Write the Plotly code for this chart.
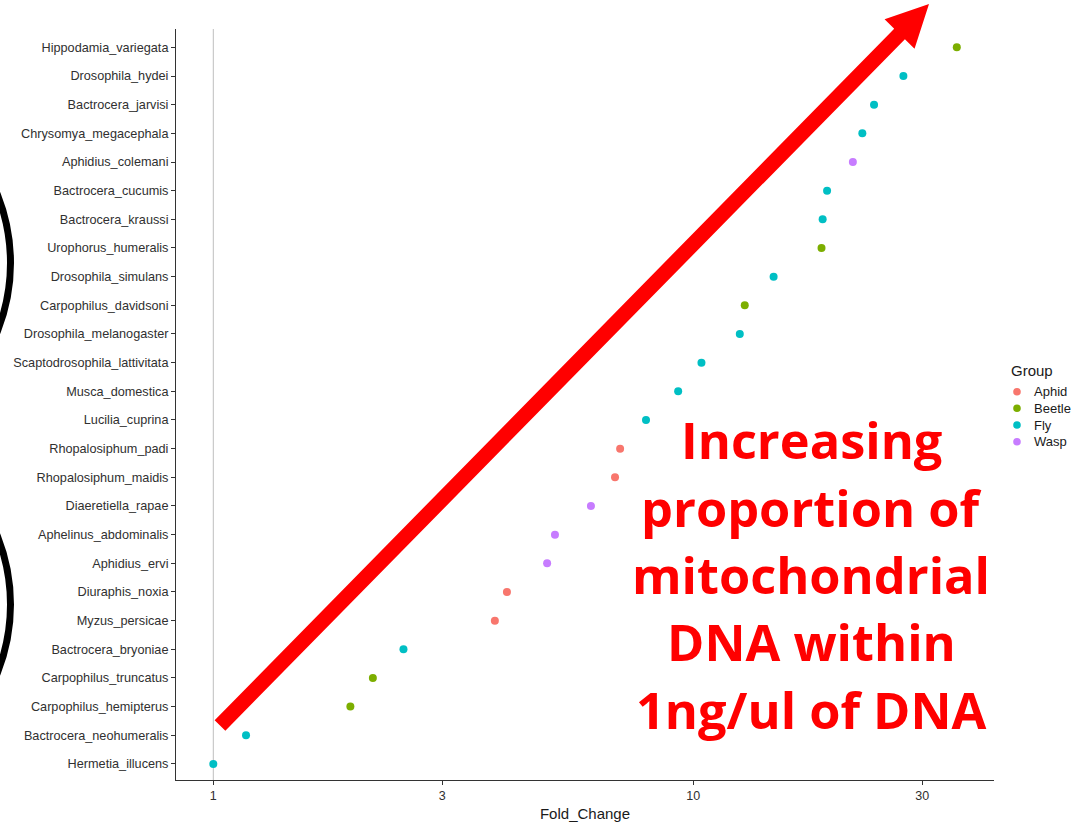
import math
import plotly.graph_objects as go

# ---- data (bottom to top) ----
species = [
    "Hermetia_illucens", "Bactrocera_neohumeralis", "Carpophilus_hemipterus",
    "Carpophilus_truncatus", "Bactrocera_bryoniae", "Myzus_persicae",
    "Diuraphis_noxia", "Aphidius_ervi", "Aphelinus_abdominalis",
    "Diaeretiella_rapae", "Rhopalosiphum_maidis", "Rhopalosiphum_padi",
    "Lucilia_cuprina", "Musca_domestica", "Scaptodrosophila_lattivitata",
    "Drosophila_melanogaster", "Carpophilus_davidsoni", "Drosophila_simulans",
    "Urophorus_humeralis", "Bactrocera_kraussi", "Bactrocera_cucumis",
    "Aphidius_colemani", "Chrysomya_megacephala", "Bactrocera_jarvisi",
    "Drosophila_hydei", "Hippodamia_variegata",
]
fold_change = [
    1.00, 1.17, 1.93, 2.15, 2.49, 3.86, 4.09, 4.96, 5.15, 6.12, 6.87, 7.04,
    7.97, 9.30, 10.4, 12.5, 12.8, 14.7, 18.5, 18.6, 19.0, 21.5, 22.5, 23.8,
    27.4, 35.4,
]
group = [
    "Fly", "Fly", "Beetle", "Beetle", "Fly", "Aphid", "Aphid", "Wasp", "Wasp",
    "Wasp", "Aphid", "Aphid", "Fly", "Fly", "Fly", "Fly", "Beetle", "Fly",
    "Beetle", "Fly", "Fly", "Wasp", "Fly", "Fly", "Fly", "Beetle",
]
groups = ["Aphid", "Beetle", "Fly", "Wasp"]
group_colors = ["#F8766D", "#7CAE00", "#00BFC4", "#C77CFF"]
x_ticks = [1, 3, 10, 30]
x_ticklabels = ["1", "3", "10", "30"]
text_lines = ["Increasing", "proportion of", "mitochondrial", "DNA within", "1ng/ul of DNA"]

# ---- layout geometry (pixels) ----
W, H = 1071, 822
L, R, T, B = 176, 994, 29, 780


def px(xp):
    return (xp - L) / (R - L)


def py(yp):
    return (B - yp) / (B - T)


fig = go.Figure()
for g, c in zip(groups, group_colors):
    xs = [v for v, gg in zip(fold_change, group) if gg == g]
    ys = [s for s, gg in zip(species, group) if gg == g]
    fig.add_trace(go.Scatter(
        x=xs, y=ys, mode="markers", name=g, showlegend=False,
        marker=dict(color=c, size=8, line=dict(width=0)),
    ))

shapes = []
# vertical reference line at x = 1
shapes.append(dict(type="line", xref="x", yref="paper", x0=1, x1=1, y0=0, y1=1,
                   line=dict(color="#BEBEBE", width=1), layer="below"))

# red arrow polygon
tx, ty = 220.0, 725.5
hx, hy = 929.0, 4.0
dx, dy = hx - tx, hy - ty
ln = math.hypot(dx, dy)
ux, uy = dx / ln, dy / ln
nx, ny = -uy, ux
sw, hw, hl = 7.5, 21.0, 42.0
bx, by = hx - hl * ux, hy - hl * uy
pts = [
    (tx + sw * nx, ty + sw * ny),
    (bx + sw * nx, by + sw * ny),
    (bx + hw * nx, by + hw * ny),
    (hx, hy),
    (bx - hw * nx, by - hw * ny),
    (bx - sw * nx, by - sw * ny),
    (tx - sw * nx, ty - sw * ny),
]
path = "M " + " L ".join(f"{px(a):.5f},{py(b):.5f}" for a, b in pts) + " Z"
shapes.append(dict(type="path", xref="paper", yref="paper", path=path,
                   fillcolor="#FF0000", line=dict(width=0), layer="above"))

# black arcs at left edge
for cy, rad, peak in [(263.0, 184.5, 10.5), (604.5, 184.5, 10.5)]:
    cx = peak - rad
    shapes.append(dict(type="circle", xref="paper", yref="paper",
                       x0=px(cx - rad), x1=px(cx + rad),
                       y0=py(cy + rad), y1=py(cy - rad),
                       line=dict(color="#000000", width=7), fillcolor="rgba(0,0,0,0)"))

annotations = []
baselines = [455, 523, 590, 657, 725]
fs = 50.5
for t, bl in zip(text_lines, baselines):
    annotations.append(dict(
        text=f"<b>{t}</b>", xref="paper", yref="paper", x=px(811),
        y=py(bl - 0.3 * fs), xanchor="center", yanchor="middle", showarrow=False,
        font=dict(family="Open Sans", size=fs, color="#FF0000"),
    ))

# legend (drawn manually to match ggplot spacing)
annotations.append(dict(text="Group", xref="paper", yref="paper", x=px(1009),
                        y=py(370), xanchor="left", yanchor="middle", showarrow=False,
                        font=dict(size=15, color="#1a1a1a")))
leg_y = [391.7, 408.3, 425.0, 441.7]
for g, c, yy in zip(groups, group_colors, leg_y):
    r = 3.8
    shapes.append(dict(type="circle", xref="paper", yref="paper",
                       x0=px(1017 - r), x1=px(1017 + r), y0=py(yy + r), y1=py(yy - r),
                       fillcolor=c, line=dict(width=0)))
    annotations.append(dict(text=g, xref="paper", yref="paper", x=px(1032),
                            y=py(yy), xanchor="left", yanchor="middle", showarrow=False,
                            font=dict(size=13, color="#1a1a1a")))

fig.update_layout(
    width=W, height=H,
    margin=dict(l=L, r=W - R, t=T, b=H - B, autoexpand=False),
    paper_bgcolor="white", plot_bgcolor="white",
    font=dict(family="Liberation Sans, Arial", color="#303030"),
    showlegend=False,
    shapes=shapes,
    annotations=annotations,
    xaxis=dict(
        type="log", range=[-0.0777, 1.6265],
        tickvals=x_ticks, ticktext=x_ticklabels,
        showline=True, linecolor="#333333", linewidth=1,
        ticks="outside", ticklen=4, tickcolor="#333333",
        tickfont=dict(size=12.5, color="#303030"),
        showgrid=False, zeroline=False,
        title=dict(text="Fold_Change", font=dict(size=15, color="#1a1a1a"), standoff=6),
    ),
    yaxis=dict(
        type="category", categoryorder="array", categoryarray=species,
        range=[-0.56, 25.64],
        showline=True, linecolor="#333333", linewidth=1,
        ticks="outside", ticklen=4, tickcolor="#333333",
        tickfont=dict(size=12.7, color="#303030"),
        showgrid=False, zeroline=False,
    ),
)

fig.write_html("out.html", config={"displayModeBar": False},
               post_script="document.body.style.margin='0';")
